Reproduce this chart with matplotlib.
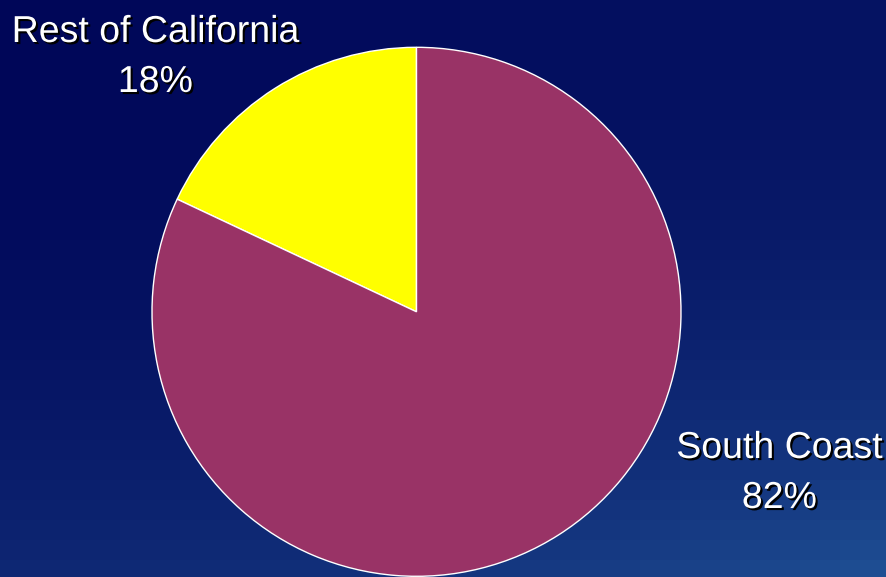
import numpy as np
import matplotlib
matplotlib.use("Agg")
import matplotlib.pyplot as plt
import matplotlib.patheffects as pe

# Share of the total by region
regions = ["South Coast", "Rest of California"]
shares = [82, 18]
colors = ["#993366", "#FFFF00"]

W, H = 887, 577
fig = plt.figure(figsize=(W / 100, H / 100), dpi=100)
ax = fig.add_axes([0, 0, 1, 1])

# Navy-to-blue backdrop, built from coarse cells for a slightly blocky look
cell = 20
nx, ny = W // cell + 1, H // cell + 1
u = (np.arange(nx) + 0.5) / nx
v = (np.arange(ny) + 0.5) / ny
U, V = np.meshgrid(u, v)
t = 0.18 * U + 0.45 * V ** 2 + 0.37 * (U * V) ** 2
t = np.clip(t, 0, 1)
dark = np.array([0, 6, 88]) / 255
light = np.array([32, 82, 150]) / 255
img = dark[None, None, :] * (1 - t[..., None]) + light[None, None, :] * t[..., None]
ax.imshow(img, extent=(0, nx * cell, ny * cell, 0), interpolation="nearest", zorder=0)

# y axis runs downward, so a clockwise sweep in data space reads counter-clockwise
cx, cy, r = 416.5, 311.8, 264.5
wedges, _ = ax.pie(
    shares[::-1],
    colors=colors[::-1],
    startangle=-90,
    counterclock=False,
    center=(cx, cy),
    radius=r,
    frame=True,
    wedgeprops=dict(edgecolor="white", linewidth=1.0),
)
for w in wedges:
    w.set_zorder(2)
ax.set_xlim(0, W)
ax.set_ylim(H, 0)
ax.set_aspect("equal")
ax.axis("off")

fam = ["Liberation Sans Narrow", "Liberation Sans", "DejaVu Sans"]
shadow = [pe.withSimplePatchShadow(offset=(1.5, -1.5), shadow_rgbFace="black", alpha=1.0)]

def label(x, y, name, value):
    ax.text(x, y, name, ha="center", va="baseline", color="white", fontsize=27,
            family=fam, path_effects=shadow, zorder=5)
    ax.text(x, y + 50, f"{value}%", ha="center", va="baseline", color="white", fontsize=27,
            family=fam, path_effects=shadow, zorder=5)

label(155.5, 42, regions[1], shares[1])
label(779.5, 458, regions[0], shares[0])

fig.savefig("out.png", dpi=100)
